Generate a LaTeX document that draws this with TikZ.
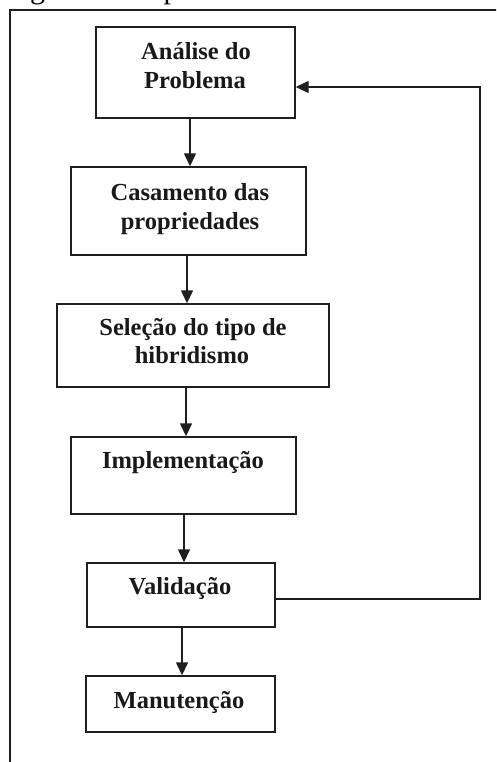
\documentclass[tikz,border=0pt]{standalone}
\usepackage{fontspec}
\setmainfont{Liberation Serif}
\usetikzlibrary{arrows.meta,calc}
\begin{document}
\begin{tikzpicture}[x=1pt,y=-1pt,
  stepbox/.style={draw=black!88,line width=1.4pt,minimum width=#1,inner sep=0pt},
  lbl/.style={anchor=base,inner sep=0pt,font=\fontsize{24.5}{29}\selectfont\bfseries,text=black!90},
  conn/.style={draw=black!88,line width=1.4pt,-{Triangle[length=13pt,width=12pt]}}]
\useasboundingbox (0,0) rectangle (496,762);
\begin{scope}
\clip (0,0) rectangle (496,762);
\node[anchor=base west,inner sep=0pt,font=\fontsize{30}{36}\selectfont] (cap) at (5,-1) {Figura 2. Etapas};
\draw[black!88,line width=1.4pt] (10,770) -- (10,10) -- (505,10);
\end{scope}
% boxes
\node[stepbox=199pt,minimum height=91pt] (b1) at (195.5,72.5) {};
\node[stepbox=235pt,minimum height=88pt] (b2) at (188.5,211) {};
\node[stepbox=272pt,minimum height=83pt] (b3) at (193,345.5) {};
\node[stepbox=225pt,minimum height=77pt] (b4) at (183.5,475.5) {};
\node[stepbox=188pt,minimum height=64pt] (b5) at (181,595) {};
\node[stepbox=189pt,minimum height=56pt] (b6) at (180.5,704) {};
% labels
\node[lbl] (t1a) at (196,60) {Análise do};
\node[lbl] (t1b) at (195,89) {Problema};
\node[lbl] (t2a) at (190,200) {Casamento das};
\node[lbl] (t2b) at (190,229) {propriedades};
\node[lbl] (t3a) at (193,335) {Seleção do tipo de};
\node[lbl] (t3b) at (192,363) {hibridismo};
\node[lbl] (t4) at (183,468) {Implementação};
\node[lbl] (t5) at (180,594) {Validação};
\node[lbl] (t6) at (179,708) {Manutenção};
% connectors
\draw[conn] (b1.south -| 190,0) -- (b2.north -| 190,0);
\draw[conn] (b2.south -| 187,0) -- (b3.north -| 187,0);
\draw[conn] (b3.south -| 186,0) -- (b4.north -| 186,0);
\draw[conn] (b4.south -| 184,0) -- (b5.north -| 184,0);
\draw[conn] (b5.south -| 182,0) -- (b6.north -| 182,0);
\coordinate (fb) at (480,599);
\draw[conn] (b5.east |- fb) -- (fb) |- (b1.east |- 0,87);
\end{tikzpicture}
\end{document}
